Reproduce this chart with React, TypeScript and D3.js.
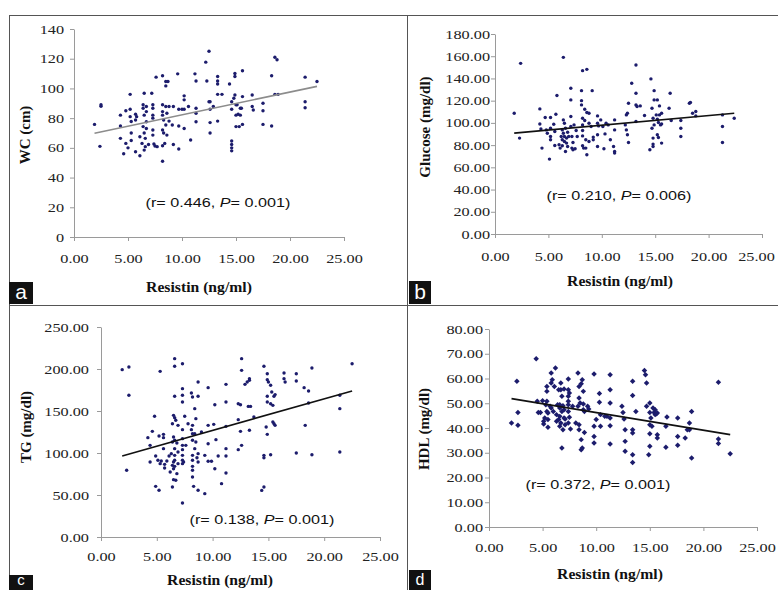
import { useEffect, useRef } from "react";
import * as d3 from "d3";

// resistin (x) vs each marker (y)
const wcPoints: [number, number][] = [
  [1.9, 75.8], [2.4, 61], [2.5, 88], [2.5, 89], [4.3, 74.7], [4.3, 82], [4.3, 66.4], [4.6, 56],
  [4.8, 85], [4.8, 63], [5.0, 60], [5.2, 96], [5.2, 86], [5.2, 81], [5.3, 77.7], [5.3, 70],
  [5.3, 65], [5.7, 57.4], [5.7, 78.8], [5.7, 82.6], [5.8, 81], [6.1, 54.7], [6.1, 67.5], [6.3, 63],
  [6.4, 89], [6.4, 86.7], [6.5, 96.8], [6.5, 82], [6.4, 74.3], [6.5, 70], [6.6, 66.4], [6.6, 60.8],
  [6.5, 58.5], [6.7, 77.6], [6.7, 87.8], [6.7, 84.4], [6.7, 73], [6.9, 62.3], [7.2, 96.8], [7.3, 89],
  [7.3, 86.7], [7.3, 82], [7.3, 80], [7.3, 72], [7.3, 68.6], [7.4, 62.6], [7.5, 61.2], [7.6, 107.6],
  [7.7, 60.8], [8.2, 108.5], [8.2, 89], [8.2, 84.4], [8.2, 82], [8.3, 78.8], [8.2, 72], [8.3, 70],
  [8.2, 61.4], [8.2, 51], [8.4, 63], [8.5, 101.7], [8.5, 104.7], [8.7, 104.7], [8.5, 87.8], [8.6, 83.3],
  [8.5, 75.4], [8.6, 68.6], [8.8, 87.8], [8.8, 78], [9.1, 75.4], [9.2, 87.8], [9.2, 62.3], [9.6, 109.8],
  [9.7, 86], [9.7, 59.2], [9.7, 74.7], [10, 86], [10.2, 73], [10.2, 95], [10.2, 92.3], [10.2, 86],
  [10.6, 87.8], [10.8, 65.3], [11.2, 109.8], [11.3, 105], [11.3, 86.7], [11.3, 83.3], [11.3, 77.6], [12.2, 117.7],
  [12.3, 105], [12.5, 125], [12.5, 91], [12.6, 91], [12.6, 86], [12.6, 77], [12.6, 70], [12.9, 87.8],
  [13.3, 108], [13.3, 105], [13.3, 103], [13.3, 96], [13.7, 96], [13.3, 78], [14.4, 103], [14.6, 91],
  [14.6, 86], [14.6, 64.6], [14.6, 62.3], [14.6, 60], [14.6, 58], [14.8, 93.4], [14.9, 110], [14.9, 108],
  [14.9, 95.6], [15.0, 89], [15.0, 82], [15.0, 74.3], [15.1, 89], [15.2, 82.6], [15.3, 74.3], [15.4, 86.7],
  [15.4, 82], [15.5, 86.7], [15.6, 111.9], [15.6, 94.5], [15.6, 75.8], [16.5, 87.8], [16.5, 95.6], [16.6, 85.5],
  [17.5, 90], [17.5, 85], [17.5, 75.8], [18.3, 108.5], [18.3, 74.7], [18.6, 96], [18.6, 121], [18.8, 119.3],
  [18.9, 96], [21.4, 107.6], [21.4, 91], [21.4, 87], [22.5, 104.7],
];

const glucosePoints: [number, number][] = [
  [1.8, 108.7], [2.3, 86.3], [2.4, 153.6], [4.2, 112.6], [4.2, 99], [4.3, 94.6], [4.4, 77.3], [4.7, 104.8],
  [4.8, 93.7], [4.9, 90.7], [5.1, 67.4], [5.2, 104.8], [5.2, 95.2], [5.2, 87.7], [5.2, 84.8], [5.5, 98.8],
  [5.6, 92.2], [5.6, 79.7], [5.7, 107.8], [5.8, 124.6], [6.0, 80.3], [6.1, 77.3], [6.2, 87.7], [6.3, 93.7],
  [6.3, 84.8], [6.3, 79.4], [6.4, 102.7], [6.4, 90.7], [6.4, 159], [6.5, 99.7], [6.5, 87.7], [6.5, 83.3],
  [6.6, 95.2], [6.6, 74.3], [6.7, 86.3], [6.7, 81.8], [6.8, 91.6], [6.8, 78.8], [6.9, 87.7], [7.1, 131.2],
  [7.1, 120.7], [7.1, 105.7], [7.1, 96.7], [7.2, 87.7], [7.2, 77.3], [7.3, 82.4], [7.3, 75.8], [7.4, 98.2],
  [7.5, 76.7], [7.6, 93.1], [7.7, 87.7], [8.1, 129], [8.1, 120], [8.1, 116.2], [8.2, 104.2], [8.2, 98.2],
  [8.2, 88.3], [8.2, 79.4], [8.2, 147], [8.2, 93.1], [8.3, 77.3], [8.4, 112.3], [8.4, 102.1], [8.5, 84.8],
  [8.5, 77.3], [8.6, 109.3], [8.6, 148.2], [8.6, 71.3], [8.8, 108.7], [8.8, 99.7], [8.8, 83.3], [9.0, 96.7],
  [9.1, 129], [9.2, 87.2], [9.2, 84.8], [9.6, 106.3], [9.6, 99.7], [9.6, 89.3], [9.6, 78.8], [9.7, 97.3],
  [9.9, 102.7], [10.1, 96.7], [10.2, 76.7], [10.3, 90.1], [10.4, 99.7], [10.6, 98.2], [10.8, 84.8], [11.1, 78.8],
  [11.2, 74.3], [11.2, 72.8], [11.2, 102.7], [11.2, 93.7], [12.2, 98.2], [12.3, 107.2], [12.3, 93.7], [12.4, 108.7],
  [12.4, 89.3], [12.5, 117.7], [12.5, 82.4], [12.8, 135.7], [13.2, 152.1], [13.2, 126.7], [13.2, 116.2], [13.2, 101.2],
  [13.3, 114.7], [13.6, 115.3], [14.0, 106.6], [14.5, 75.8], [14.6, 139.6], [14.7, 113.2], [14.7, 95.2], [14.8, 104.2],
  [14.8, 86.3], [14.8, 80.9], [14.8, 78.8], [14.9, 129], [14.9, 120.7], [14.9, 98.2], [15.1, 107.2], [15.2, 120.7],
  [15.2, 103.3], [15.2, 89.3], [15.3, 100.3], [15.3, 86.8], [15.4, 115.3], [15.4, 107.2], [15.5, 98.2], [15.6, 81.8],
  [15.6, 108.7], [15.6, 99.1], [16.3, 113.2], [16.4, 126.7], [16.5, 102.1], [17.4, 102.1], [17.4, 95.2], [17.4, 87.7],
  [18.2, 117.7], [18.3, 118.3], [18.5, 108.7], [18.8, 106.3], [18.8, 110.2], [21.3, 96.7], [21.3, 82.4], [21.3, 107.2],
  [22.4, 104.2],
];

const tgPoints: [number, number][] = [
  [1.9, 199.2], [2.3, 79.4], [2.5, 202.4], [2.5, 168.7], [4.2, 118.3], [4.4, 109.1], [4.4, 89.3], [4.6, 125.8],
  [4.8, 143.7], [4.9, 60.3], [4.9, 96.4], [5.1, 91.3], [5.2, 55.6], [5.2, 120.2], [5.3, 197.2], [5.3, 87.3],
  [5.4, 90.5], [5.6, 122.2], [5.6, 118.3], [5.6, 105.2], [5.7, 86.5], [5.7, 82.1], [5.9, 90.5], [6.1, 96.4],
  [6.2, 77.4], [6.3, 99.2], [6.4, 59.5], [6.4, 85.3], [6.4, 134.9], [6.4, 113.1], [6.5, 144.8], [6.5, 119],
  [6.5, 89.3], [6.5, 81.3], [6.5, 68.3], [6.6, 212.3], [6.6, 203.2], [6.6, 167.5], [6.6, 142.1], [6.6, 115.1],
  [6.6, 105.2], [6.6, 97.2], [6.6, 91.3], [6.6, 84.1], [6.7, 138.9], [6.7, 67.5], [6.8, 75.4], [6.8, 111.9],
  [6.9, 132.9], [6.9, 101.2], [6.9, 87.3], [7.3, 206.3], [7.3, 176.6], [7.3, 168.7], [7.3, 160.7], [7.3, 127.8],
  [7.3, 117.1], [7.3, 109.1], [7.3, 104], [7.3, 97.2], [7.3, 91.3], [7.3, 87.3], [7.3, 40.5], [7.4, 89.3],
  [7.5, 143.7], [7.6, 109.1], [7.8, 134.9], [8.1, 127.8], [8.1, 171.4], [8.2, 166.7], [8.2, 132.9], [8.2, 123],
  [8.2, 115.1], [8.2, 97.2], [8.2, 91.3], [8.2, 84.1], [8.2, 79.4], [8.2, 71.4], [8.3, 60.3], [8.4, 123],
  [8.4, 152.8], [8.4, 105.2], [8.5, 140.9], [8.5, 113.1], [8.6, 94.4], [8.7, 55.6], [8.7, 184.5], [8.7, 167.5],
  [8.7, 99.2], [8.7, 89.3], [9.0, 125], [9.3, 97.2], [9.3, 51.6], [9.6, 177.8], [9.6, 132.9], [9.6, 111.1],
  [9.6, 90.1], [9.9, 90.1], [10.1, 134.1], [10.2, 81.3], [10.2, 157.5], [10.3, 115.9], [10.5, 96.4], [10.8, 63.5],
  [11.2, 181.7], [11.2, 160.7], [11.2, 131.7], [11.2, 105.2], [11.2, 96.4], [11.2, 76.2], [12.3, 139.7], [12.3, 158.7],
  [12.3, 104], [12.5, 157.5], [12.5, 125.8], [12.6, 109.1], [12.6, 212.3], [12.6, 198.4], [12.9, 181.7], [13.1, 184.5],
  [13.2, 155.5], [13.3, 188.5], [13.3, 186.5], [13.3, 127], [13.4, 155.5], [13.7, 142.9], [14.4, 55.5], [14.6, 59.5],
  [14.6, 203.2], [14.6, 97.2], [14.6, 94.4], [14.8, 131], [14.9, 194.4], [14.9, 187.3], [14.9, 167.5], [14.9, 160.7],
  [14.9, 122.2], [15.0, 184.5], [15.2, 180.6], [15.2, 158.7], [15.2, 98], [15.3, 172.6], [15.4, 156.7], [15.4, 136.9],
  [15.5, 167.5], [15.5, 134.9], [15.6, 169.5], [15.6, 132.9], [16.4, 195.2], [16.4, 188.5], [16.5, 184.5], [17.5, 194.4],
  [17.5, 185.7], [17.5, 100], [18.2, 177.8], [18.3, 132.9], [18.6, 173.8], [18.6, 159.5], [18.9, 201.2], [18.9, 98],
  [21.4, 168.7], [21.4, 152.8], [21.4, 101.2], [22.5, 206.3],
];

const hdlPoints: [number, number][] = [
  [2.1, 42], [2.6, 58.9], [2.7, 46.3], [2.7, 41.1], [4.4, 68], [4.5, 50.8], [4.6, 46.3], [4.8, 46.3],
  [5.0, 51], [5.1, 42.7], [5.1, 41.6], [5.2, 44], [5.3, 49.4], [5.4, 50.8], [5.4, 46.7], [5.4, 54.8],
  [5.4, 56.8], [5.5, 40.3], [5.5, 43.4], [5.5, 46.1], [5.7, 48.8], [5.8, 62.2], [5.8, 58.2], [5.8, 48.1],
  [5.9, 59.5], [6.0, 46.7], [6.1, 56.8], [6.2, 64.2], [6.3, 45.4], [6.3, 42.7], [6.4, 49.4], [6.5, 55.5],
  [6.5, 43.4], [6.6, 40.7], [6.6, 49.4], [6.6, 44.7], [6.6, 48.1], [6.7, 58.2], [6.7, 55.5], [6.7, 42],
  [6.8, 52.8], [6.8, 46.7], [6.8, 31.9], [6.9, 49], [6.9, 39.3], [7.0, 44], [7.0, 55.8], [7.0, 47.4],
  [7.1, 41.3], [7.1, 43.6], [7.4, 59.8], [7.4, 55.5], [7.4, 52.8], [7.4, 49.4], [7.4, 46.7], [7.4, 42],
  [7.4, 50.8], [7.5, 44.3], [7.5, 54.1], [7.6, 39.6], [7.8, 48.8], [8.1, 42], [8.3, 48.8], [8.3, 62.2],
  [8.4, 56.8], [8.4, 52.1], [8.4, 41.3], [8.4, 39.3], [8.5, 50.1], [8.6, 57.9], [8.6, 35.3], [8.6, 31.2],
  [8.7, 31.9], [8.7, 59.5], [8.8, 54.8], [8.8, 47.4], [8.8, 49.7], [8.9, 38.2], [8.9, 46.7], [9.2, 48.8],
  [9.3, 47.7], [9.8, 61.8], [9.8, 40.7], [9.8, 36.6], [9.8, 33.9], [10.0, 43.4], [10.3, 53.9], [10.3, 50.4],
  [10.4, 45.4], [10.4, 40.7], [10.8, 44.7], [11.0, 44.7], [11.3, 61.5], [11.3, 55.5], [11.3, 50.1], [11.3, 44],
  [11.3, 40.9], [11.3, 33.5], [12.4, 48.8], [12.5, 46.3], [12.6, 43.6], [12.7, 39.3], [12.7, 34.6], [12.7, 30.6],
  [13.4, 58.9], [13.4, 53.1], [13.4, 39.3], [13.4, 38], [13.4, 29.2], [13.4, 26.1], [13.7, 46.7], [14.5, 63.2],
  [14.6, 61.5], [14.7, 58.2], [14.7, 48.8], [14.9, 29.2], [15.0, 50.1], [15.0, 46.3], [15.0, 41.3], [15.0, 37.7],
  [15.0, 32.6], [15.1, 44], [15.2, 40.7], [15.3, 48.1], [15.4, 46.3], [15.5, 45.4], [15.5, 47.4], [15.6, 45.8],
  [15.7, 37.3], [15.7, 36], [15.7, 46.1], [16.5, 40.7], [16.6, 44.4], [16.5, 32.2], [17.6, 44], [17.6, 36.6],
  [17.6, 33], [18.3, 36], [18.5, 39.3], [18.7, 42], [18.7, 39.3], [18.9, 46.7], [18.9, 27.9], [21.4, 58.5],
  [21.4, 35.6], [21.4, 33.7], [22.5, 29.6],
];

// fitted lines as [intercept, slope]
const wcTrend = [66.9, 1.532];
const glucoseTrend = [89.2, 0.87];
const tgTrend = [89.3, 3.76];
const hdlTrend = [53.36, -0.713];

const xTicks = [0, 5, 10, 15, 20, 25];
const wcTicks = [0, 20, 40, 60, 80, 100, 120, 140];
const glucoseTicks = [0, 20, 40, 60, 80, 100, 120, 140, 160, 180];
const tgTicks = [0, 50, 100, 150, 200, 250];
const hdlTicks = [0, 10, 20, 30, 40, 50, 60, 70, 80];

const serif = "'Liberation Serif', 'Times New Roman', serif";
const sans = "'Liberation Sans', Arial, sans-serif";
const axisColor = "#9a9a9a";
const dotColor = "#1c1c6c";
const sx = 1.3; // source image is horizontally stretched

const panels = [
  {
    label: "a", points: wcPoints, trend: wcTrend, trendColor: "#8c8c8c", yTicks: wcTicks, yMax: 140,
    yFmt: d3.format("d"), yTitle: "WC (cm)", r: ["0.446", "0.001"], marker: "dot",
    left: 74, right: 344, top: 29, bottom: 237, yPad: 6, xPad: 13, lastShift: 0,
    note: [218, 207], xt: [199, 292], yt: [30, 135], box: [9, 282, 24, 22], letter: [21, 299], letterSize: 21,
  },
  {
    label: "b", points: glucosePoints, trend: glucoseTrend, trendColor: "#111", yTicks: glucoseTicks, yMax: 180,
    yFmt: d3.format(".2f"), yTitle: "Glucose (mg/dl)", r: ["0.210", "0.006"], marker: "dot",
    left: 495, right: 762, top: 34, bottom: 234, yPad: 1, xPad: 14, lastShift: -6,
    note: [619, 200], xt: [620, 286], yt: [430, 127], box: [409, 281, 22, 23], letter: [420, 299], letterSize: 21,
  },
  {
    label: "c", points: tgPoints, trend: tgTrend, trendColor: "#111", yTicks: tgTicks, yMax: 250,
    yFmt: d3.format(".2f"), yTitle: "TG (mg/dl)", r: ["0.138", "0.001"], marker: "dot",
    left: 101, right: 380, top: 327, bottom: 537, yPad: 8, xPad: 11, lastShift: 0,
    note: [262, 524], xt: [220, 585], yt: [31, 427], box: [9, 575, 24, 15], letter: [21, 585], letterSize: 15,
  },
  {
    label: "d", points: hdlPoints, trend: hdlTrend, trendColor: "#111", yTicks: hdlTicks, yMax: 80,
    yFmt: d3.format(".2f"), yTitle: "HDL (mg/dl)", r: ["0.372", "0.001"], marker: "diamond",
    left: 489, right: 757, top: 329, bottom: 527, yPad: 2, xPad: 12, lastShift: 0,
    note: [598, 489], xt: [610, 579], yt: [429, 429], box: [409, 570, 22, 20], letter: [420, 585], letterSize: 16,
  },
];

function App() {
  const ref = useRef<SVGSVGElement>(null);

  useEffect(() => {
    document.body.style.margin = "0";
    const svg = d3.select(ref.current);
    svg.selectAll("*").remove();

    // frame lines between the panels
    const frame = svg.append("g").attr("stroke", "#555").attr("stroke-width", 1);
    frame.append("line").attr("x1", 9).attr("x2", 778).attr("y1", 15.5).attr("y2", 15.5);
    frame.append("line").attr("x1", 9).attr("x2", 778).attr("y1", 305.5).attr("y2", 305.5);
    frame.append("line").attr("x1", 9.5).attr("x2", 9.5).attr("y1", 15).attr("y2", 590);
    frame.append("line").attr("x1", 407.5).attr("x2", 407.5).attr("y1", 15).attr("y2", 590);

    panels.forEach((p) => {
      const x = d3.scaleLinear().domain([0, 25]).range([p.left, p.right]);
      const y = d3.scaleLinear().domain([0, p.yMax]).range([p.bottom, p.top]);
      const g = svg.append("g");

      const yAxis = g
        .append("g")
        .attr("transform", `translate(${p.left},0)`)
        .call(d3.axisLeft(y).tickValues(p.yTicks).tickFormat(p.yFmt as any).tickSize(4).tickSizeOuter(0).tickPadding(p.yPad));
      const xAxis = g
        .append("g")
        .attr("transform", `translate(0,${p.bottom})`)
        .call(d3.axisBottom(x).tickValues(xTicks).tickFormat(d3.format(".2f")).tickSize(4).tickSizeOuter(0).tickPadding(p.xPad));

      [yAxis, xAxis].forEach((a) => {
        a.select(".domain").attr("stroke", axisColor);
        a.selectAll(".tick line").attr("stroke", axisColor);
        a.selectAll("text").attr("font-family", serif).attr("font-size", 12.5).attr("fill", "#222");
      });
      yAxis.selectAll("text").attr("x", -(4 + p.yPad) / sx).attr("transform", `scale(${sx},1)`);
      xAxis
        .selectAll("text")
        .attr("x", (d: any) => (d === 25 ? p.lastShift / sx : 0))
        .attr("transform", `scale(${sx},1)`);

      // points
      if (p.marker === "dot") {
        g.append("g")
          .selectAll("circle")
          .data(p.points)
          .join("circle")
          .attr("cx", (d) => x(d[0]))
          .attr("cy", (d) => y(d[1]))
          .attr("r", 1.7)
          .attr("fill", dotColor);
      } else {
        const sym = d3.symbol().type(d3.symbolSquare).size(15);
        g.append("g")
          .selectAll("path")
          .data(p.points)
          .join("path")
          .attr("d", sym)
          .attr("transform", (d) => `translate(${x(d[0])},${y(d[1])}) rotate(45)`)
          .attr("fill", dotColor);
      }

      // trend line across the data range
      const [x0, x1] = d3.extent(p.points, (d) => d[0]) as [number, number];
      const [b0, b1] = p.trend;
      g.append("line")
        .attr("x1", x(x0)).attr("y1", y(b0 + b1 * x0))
        .attr("x2", x(x1)).attr("y2", y(b0 + b1 * x1))
        .attr("stroke", p.trendColor)
        .attr("stroke-width", 1.6);

      // r / P note
      const note = g
        .append("text")
        .attr("transform", `translate(${p.note[0]},${p.note[1]}) scale(1.2,1)`)
        .attr("text-anchor", "middle")
        .attr("font-family", sans)
        .attr("font-size", 13.5)
        .attr("fill", "#111");
      note.append("tspan").text(`(r= ${p.r[0]}, `);
      note.append("tspan").attr("font-style", "italic").text("P");
      note.append("tspan").text(`= ${p.r[1]})`);

      // axis titles
      g.append("text")
        .attr("transform", `translate(${p.xt[0]},${p.xt[1]}) scale(1.12,1)`)
        .attr("text-anchor", "middle")
        .attr("font-family", serif)
        .attr("font-weight", "bold")
        .attr("font-size", 14)
        .attr("fill", "#111")
        .text("Resistin (ng/ml)");
      g.append("text")
        .attr("transform", `translate(${p.yt[0]},${p.yt[1]}) rotate(-90)`)
        .attr("text-anchor", "middle")
        .attr("font-family", serif)
        .attr("font-weight", "bold")
        .attr("font-size", 15)
        .attr("fill", "#111")
        .text(p.yTitle);

      // panel letter
      g.append("rect")
        .attr("x", p.box[0]).attr("y", p.box[1])
        .attr("width", p.box[2]).attr("height", p.box[3])
        .attr("fill", "#111");
      g.append("text")
        .attr("x", p.letter[0]).attr("y", p.letter[1])
        .attr("text-anchor", "middle")
        .attr("font-family", sans)
        .attr("font-size", p.letterSize)
        .attr("fill", "#fff")
        .text(p.label);
    });
  }, []);

  return <svg ref={ref} width={778} height={590} style={{ display: "block", background: "#fff" }} />;
}

export default App;
